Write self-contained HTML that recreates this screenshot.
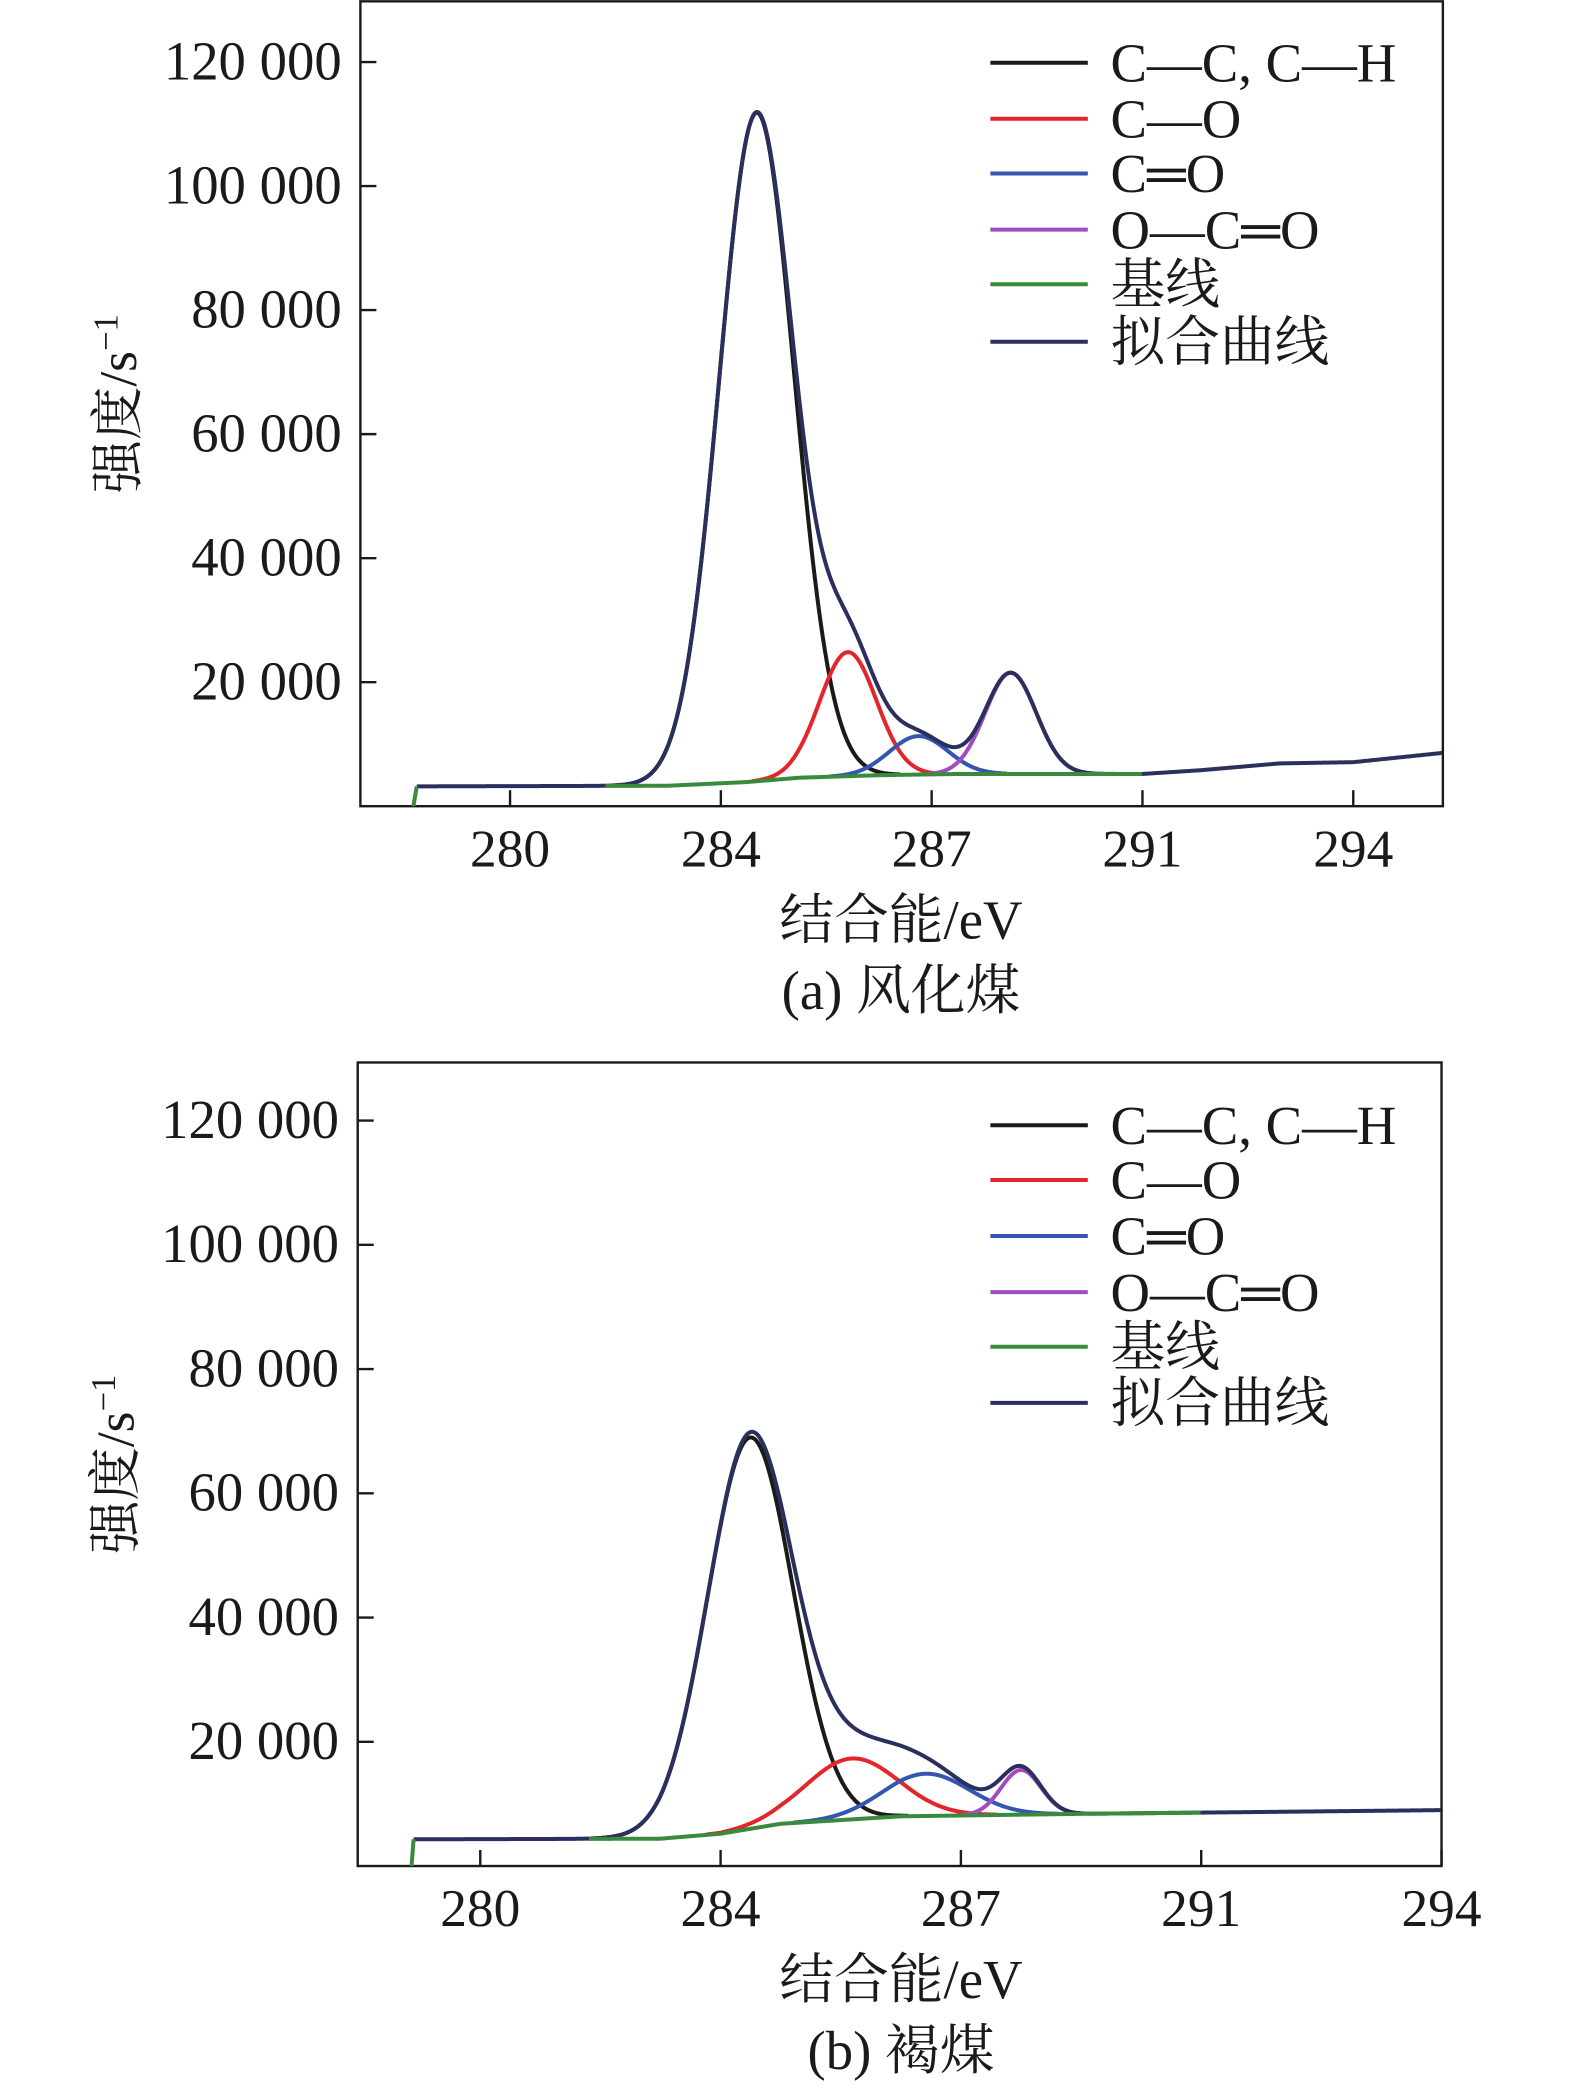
<!DOCTYPE html>
<html><head><meta charset="utf-8"><style>
body{margin:0;background:#fff}
svg{display:block}
text{font-family:"Liberation Serif","Noto Serif CJK SC","Noto Sans CJK SC",serif;fill:#1a1a1a}
</style></head><body>
<svg id="chart" width="1575" height="2092" viewBox="0 0 1180 1567.3" preserveAspectRatio="none" xmlns="http://www.w3.org/2000/svg"></svg>
<script>
// ---- shared data ----
const tickValues = [280, 284, 288, 292, 296];
const tickLabels = ['280', '284', '287', '291', '294'];
const yTicks = [20000, 40000, 60000, 80000, 100000, 120000];
const yTickLabels = ['20 000', '40 000', '60 000', '80 000', '100 000', '120 000'];
const legendLabels = ['C—C, C—H', 'C—O', 'C═O', 'O—C═O', '基线', '拟合曲线'];
const peakColors = ['#1a1a1a', '#e3262b', '#3556b0', '#a24cc2'];
// ---- chart (a) ----
const aCenters = [284.68, 286.41, 287.75, 289.5];
const aAmps = [107800, 20000, 6200, 16300];
const aFwhm = [1.67, 1.27, 1.3, 1.14];
const aBaseX = [278.15, 278.23, 283, 284.5, 285.5, 287, 288.5, 292, 293.1, 294.6, 296, 297.7];
const aBaseY = [-800, 3200, 3300, 3900, 4600, 5000, 5200, 5200, 5800, 6900, 7100, 8600];
// ---- chart (b) ----
const bCenters = [284.49, 286.18, 287.42, 289.0];
const bAmps = [63000, 9800, 6800, 7200];
const bFwhm = [1.67, 1.8, 1.7, 0.78];
const bBaseX = [278.85, 278.89, 283, 284, 285, 287, 290, 296];
const bBaseY = [-800, 4300, 4400, 5200, 6800, 8000, 8400, 9000];

const NS = 'http://www.w3.org/2000/svg';
const svg = document.getElementById('chart');
function mk(tag, attrs, parent){const e=document.createElementNS(NS,tag);for(const k in attrs)e.setAttribute(k,attrs[k]);(parent||svg).appendChild(e);return e;}
function interp(xs, ys, x){if(x<=xs[0])return ys[0];for(let i=1;i<xs.length;i++){if(x<=xs[i]){const t=(x-xs[i-1])/(xs[i]-xs[i-1]);return ys[i-1]+t*(ys[i]-ys[i-1]);}}return ys[ys.length-1];}

function drawChart(cfg){
  const {L,R,T,B,xmin,xmax,centers,amps,fwhm,baseX,baseY,id,caption,legY} = cfg;
  const xs = v => L + (v - xmin) / (xmax - xmin) * (R - L);
  const ys = v => B - v / cfg.ymax * (B - T);
  const g = mk('g', {});
  
  
  const cp = mk('clipPath', {id:'clip'+id}, g);
  mk('rect', {x:L, y:T, width:R-L, height:B-T}, cp);
  const fr = mk('rect', {x:L, y:T, width:R-L, height:B-T, fill:'none', stroke:'#1a1a1a', 'stroke-width':1.8}, g);
  
  
  yTicks.forEach((v,i)=>{
    const y = ys(v);
    const t = mk('line', {x1:L, x2:L+12, y1:y, y2:y, stroke:'#1a1a1a', 'stroke-width':1.8}, g);
    
    
    const tx = mk('text', {x:L-14, y:y+13, 'text-anchor':'end', 'font-size':41}, g);
    tx.textContent = yTickLabels[i];
    
    
  });
  tickValues.forEach((v,i)=>{
    const x = xs(v);
    const t = mk('line', {x1:x, x2:x, y1:B, y2:B-12, stroke:'#1a1a1a', 'stroke-width':1.8}, g);
    
    
    const tx = mk('text', {x:x, y:B+45, 'text-anchor':'middle', 'font-size':40}, g);
    tx.textContent = tickLabels[i];
    
    
  });
  const yt = mk('text', {x:0, y:0, 'text-anchor':'middle', 'font-size':40, transform:`translate(${L-168},${(T+B)/2}) rotate(-90)`}, g);
  yt.innerHTML = '强度/s<tspan dy="-14" font-size="26">−1</tspan>';
  
  
  const xt = mk('text', {x:675, y:B+99, 'text-anchor':'middle', 'font-size':41}, g);
  xt.textContent = '结合能/eV';
  
  
  const ct = mk('text', {x:675, y:B+152, 'text-anchor':'middle', 'font-size':41}, g);
  ct.textContent = caption;
  
  
  const x0 = baseX[1], x1 = xmax;
  const pk = (k,x)=>{const s=fwhm[k]/2.3548;return amps[k]*Math.exp(-((x-centers[k])**2)/(2*s*s));};
  const pts = [];
  for(let x=x0;x<=x1+1e-9;x+=0.02)pts.push(x);
  const cg = mk('g', {'clip-path':`url(#clip${id})`, fill:'none', 'stroke-width':3, 'stroke-linejoin':'round'}, g);
  centers.forEach((c,k)=>{
    const d = pts.filter(x=>pk(k,x)>60).map((x,i)=>(i?'L':'M')+xs(x).toFixed(2)+' '+ys(interp(baseX,baseY,x)+pk(k,x)).toFixed(2)).join('');
    const p = mk('path', {d, stroke:peakColors[k]}, cg);
    
    
  });
  const fd = pts.map((x,i)=>(i?'L':'M')+xs(x).toFixed(2)+' '+ys(interp(baseX,baseY,x)+centers.reduce((s,c,k)=>s+pk(k,x),0)).toFixed(2)).join('');
  const fp = mk('path', {d:fd, stroke:'#2b2f5e'}, cg);
  
  
  const bd = pts.filter(x=>x>=281.8&&x<=292).map((x,i)=>(i?'L':'M')+xs(x).toFixed(2)+' '+ys(interp(baseX,baseY,x)).toFixed(2)).join('');
  const bp = mk('path', {d:bd, stroke:'#3a8a3e'}, cg);
  
  
  const sd = 'M'+xs(baseX[0])+' '+ys(baseY[0])+'L'+xs(baseX[1])+' '+ys(baseY[1]);
  const sp = mk('path', {d:sd, stroke:'#3a8a3e'}, cg);
  
  
  const legColors = [...peakColors, '#3a8a3e', '#2b2f5e'];
  legendLabels.forEach((lab,i)=>{
    const y = legY[i];
    const lg = mk('g', {}, g);
    
    
    mk('line', {x1:742, x2:815, y1:y, y2:y, stroke:legColors[i], 'stroke-width':3}, lg);
    const t = mk('text', {x:832, y:y+14, 'font-size':41}, lg);
    t.textContent = lab;
  });
}
drawChart({id:'a', L:270, R:1081, T:1, B:604, ymax:130000*(603/604), xmin:277.16, xmax:297.7,
  centers:aCenters, amps:aAmps, fwhm:aFwhm, baseX:aBaseX, baseY:aBaseY, caption:'(a) 风化煤',
  legY:[47,89,130,172,213,256]});
drawChart({id:'b', L:268, R:1080, T:796, B:1398, ymax:130000*(602/605), xmin:277.96, xmax:296,
  centers:bCenters, amps:bAmps, fwhm:bFwhm, baseX:bBaseX, baseY:bBaseY, caption:'(b) 褐煤',
  legY:[843,884,926,968,1009,1051]});
</script>
</body></html>
